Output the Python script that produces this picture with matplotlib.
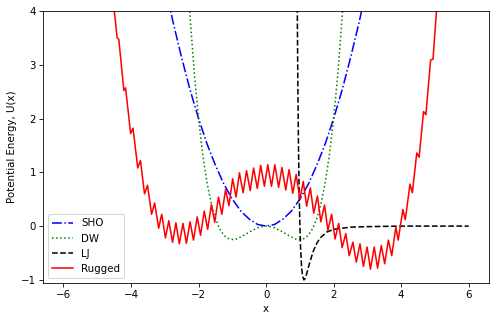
import numpy as np
import matplotlib
matplotlib.use("Agg")
import matplotlib.pyplot as plt

# valores
sho_x = np.arange(-3.0, 3.01, 0.25)
sho_u = [4.50, 3.78, 3.13, 2.53, 2.00, 1.53, 1.13, 0.78, 0.50, 0.28, 0.13, 0.03, 0.00,
         0.03, 0.13, 0.28, 0.50, 0.78, 1.13, 1.53, 2.00, 2.53, 3.13, 3.78, 4.50]

dw_x = np.arange(-2.375, 2.38, 0.125)
dw_left = [5.13, 3.88, 2.84, 2.00, 1.33, 0.81, 0.42, 0.14, -0.05, -0.17,
           -0.23, -0.25, -0.24, -0.20, -0.16, -0.11, -0.07, -0.03, -0.01]
dw_u = dw_left + [0.00] + dw_left[::-1]

lj_x = [0.90, 0.92, 0.94, 0.96, 0.98, 1.00, 1.02, 1.05, 1.08, 1.12, 1.16, 1.20,
        1.25, 1.30, 1.40, 1.50, 1.60, 1.80, 2.00, 2.50, 3.00, 4.00, 5.00, 6.00]
lj_u = [6.63, 4.28, 2.61, 1.42, 0.58, 0.00, -0.40, -0.76, -0.93, -1.00, -0.97, -0.89,
        -0.77, -0.66, -0.46, -0.32, -0.22, -0.11, -0.06, -0.02, -0.01, 0.00, 0.00, 0.00]

rug_x = [-4.56, -4.41, -4.36, -4.21, -4.16, -4.01, -3.94, -3.80, -3.72, -3.60, -3.51,
         -3.39, -3.30, -3.18, -3.09, -2.98, -2.88, -2.77, -2.67, -2.57, -2.46, -2.36,
         -2.25, -2.15, -2.04, -1.94, -1.83, -1.73, -1.62, -1.52, -1.41, -1.31, -1.20,
         -1.10, -0.99, -0.89, -0.79, -0.68, -0.58, -0.47, -0.37, -0.26, -0.16, -0.05,
         0.05, 0.16, 0.26, 0.37, 0.47, 0.58, 0.68, 0.79, 0.89, 1.00, 1.10, 1.20,
         1.31, 1.41, 1.52, 1.62, 1.73, 1.83, 1.94, 2.04, 2.15, 2.25, 2.36, 2.46,
         2.57, 2.67, 2.78, 2.88, 2.99, 3.09, 3.20, 3.30, 3.41, 3.51, 3.62, 3.72,
         3.84, 3.91, 4.05, 4.12, 4.26, 4.33, 4.46, 4.53, 4.66, 4.73, 4.87, 4.94, 5.09]
rug_u = [4.40, 3.50, 3.47, 2.52, 2.57, 1.72, 1.82, 1.08, 1.22, 0.60, 0.76,
         0.22, 0.43, -0.04, 0.22, -0.22, 0.10, -0.30, 0.06, -0.33, 0.05, -0.32,
         0.08, -0.26, 0.17, -0.17, 0.28, -0.06, 0.40, 0.07, 0.54, 0.22, 0.68,
         0.38, 0.88, 0.54, 0.99, 0.62, 1.03, 0.66, 1.08, 0.70, 1.13, 0.74,
         1.14, 0.74, 1.14, 0.72, 1.09, 0.67, 1.05, 0.61, 0.96, 0.50, 0.83, 0.37,
         0.71, 0.24, 0.56, 0.08, 0.39, -0.08, 0.22, -0.24, 0.05, -0.40, -0.14, -0.55,
         -0.30, -0.67, -0.33, -0.75, -0.39, -0.80, -0.39, -0.78, -0.36, -0.70, -0.26, -0.55,
         -0.02, -0.26, 0.31, 0.12, 0.78, 0.62, 1.36, 1.28, 2.13, 2.07, 3.09, 3.10, 4.40]

dpi = 74
fig = plt.figure(figsize=(496 / dpi, 321 / dpi), dpi=dpi)
ax = fig.add_axes([0.087, 0.118, 0.899, 0.848])

ax.plot(sho_x, sho_u, 'b-.', label='SHO')
ax.plot(dw_x, dw_u, 'g:', label='DW')
ax.plot(lj_x, lj_u, 'k--', label='LJ')
ax.plot(rug_x, rug_u, 'r-', label='Rugged')

ax.set_xlim(-6.6, 6.6)
ax.set_ylim(-1.06, 4)
ax.set_xlabel('x')
ax.set_ylabel('Potential Energy, U(x)')
ax.legend(loc='lower left')

fig.savefig('out.png', dpi=dpi)
